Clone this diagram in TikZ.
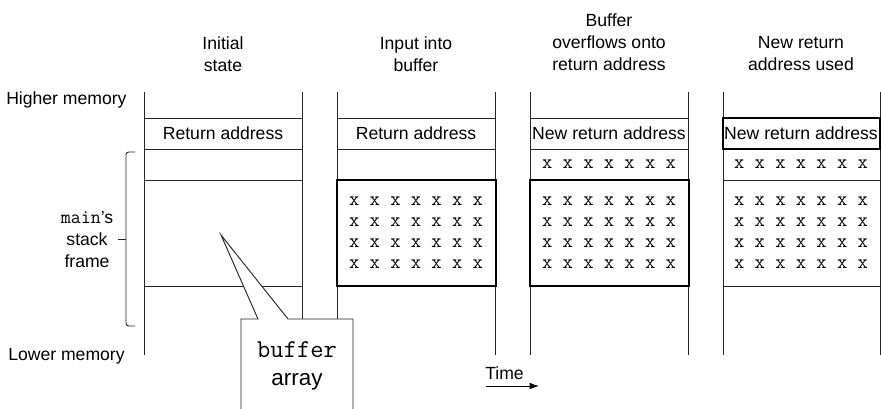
\documentclass[tikz,border=0pt]{standalone}
\usepackage{fontspec}
\setmainfont{Liberation Sans}
\usetikzlibrary{arrows.meta}
\begin{document}
\begin{tikzpicture}[x=0.75pt,y=-0.75pt,
  thinline/.style={line width=0.7pt, draw=black!85},
  heavybox/.style={line width=2.2pt, draw=black},
  lbl/.style={font=\fontsize{13.2}{16.5}\selectfont, align=center, inner sep=0pt},
  xrow/.style={font=\ttfamily\fontsize{15}{16}\selectfont, inner sep=0pt},
  calltext/.style={font=\fontsize{16.8}{21.5}\selectfont, align=center, inner sep=0pt}]
\useasboundingbox (0,0) rectangle (881,408);

% column headers
\node[lbl] (h1) at (223,54) {Initial\\state};
\node[lbl] (h2) at (416,54) {Input into\\buffer};
\node[lbl] (h3) at (609,42) {Buffer\\overflows onto\\return address};
\node[lbl] (h4) at (801,54) {New return\\address used};

% memory direction labels
\node[lbl, anchor=west] (hi) at (6,100) {Higher memory};
\node[lbl, anchor=west] (lo) at (8,356) {Lower memory};

% stack walls of the four snapshots
\foreach \l/\r [count=\i] in {144/302, 337/495, 530/688, 723/880} {
  \draw[thinline] (\l,92) -- (\l,355);
  \draw[thinline] (\r,92) -- (\r,355);
  \draw[thinline] (\l,118) -- (\r,118);
  \draw[thinline] (\l,149) -- (\r,149);
}

% snapshot 1: initial state
\draw[thinline] (144,180) -- (302,180);
\draw[thinline] (144,286) -- (302,286);
\node[lbl] (ra1) at (223,133.5) {Return address};

% snapshot 2: input into buffer
\node[lbl] (ra2) at (416,133.5) {Return address};
\draw[heavybox] (337,180) rectangle (496,286);

% snapshot 3: overflow onto return address
\node[lbl] (ra3) at (609,133.5) {New return address};
\draw[heavybox] (530,180) rectangle (689,286);
\node[xrow] (o3) at (609,164.5) {x x x x x x x};

% snapshot 4: new return address used
\draw[thinline] (723,180) -- (880,180);
\draw[thinline] (723,286) -- (880,286);
\draw[heavybox] (723,118) rectangle (880,149);
\node[lbl] (ra4) at (801,133.5) {New return address};
\node[xrow] (o4) at (801,164.5) {x x x x x x x};

% filled buffer contents
\foreach \c in {416,609,801} {
  \foreach \y [count=\k] in {201.5,222.5,243.5,264.5} {
    \node[xrow] (g\c-\k) at (\c,\y) {x x x x x x x};
  }
}

% stack frame brace
\draw[thinline, rounded corners=2pt] (135,152) -- (126,152) -- (126,326) -- (135,326);
\draw[thinline] (126,239) -- (118,239);
\node[lbl] (frame) at (87,239.5)
  {{\ttfamily\fontsize{14.6}{16.5}\selectfont main}'s\\stack\\frame};

% callout for the buffer array
\coordinate (tip) at (221,235);
\filldraw[thinline, fill=white] (241,409) -- (241,319) -- (258,319) -- (tip)
  -- (288,319) -- (353,319) -- (353,409);
\node[calltext] (callout) at (297,366)
  {{\ttfamily\fontsize{19.3}{21.5}\selectfont buffer}\\array};

% time arrow
\node[lbl] (time) at (504.5,373) {Time};
\coordinate (t0) at (486,386);
\coordinate (t1) at (539,386);
\draw[line width=0.7pt, -{Latex[length=7pt,width=5pt]}] (t0) -- (t1);
\end{tikzpicture}
\end{document}
